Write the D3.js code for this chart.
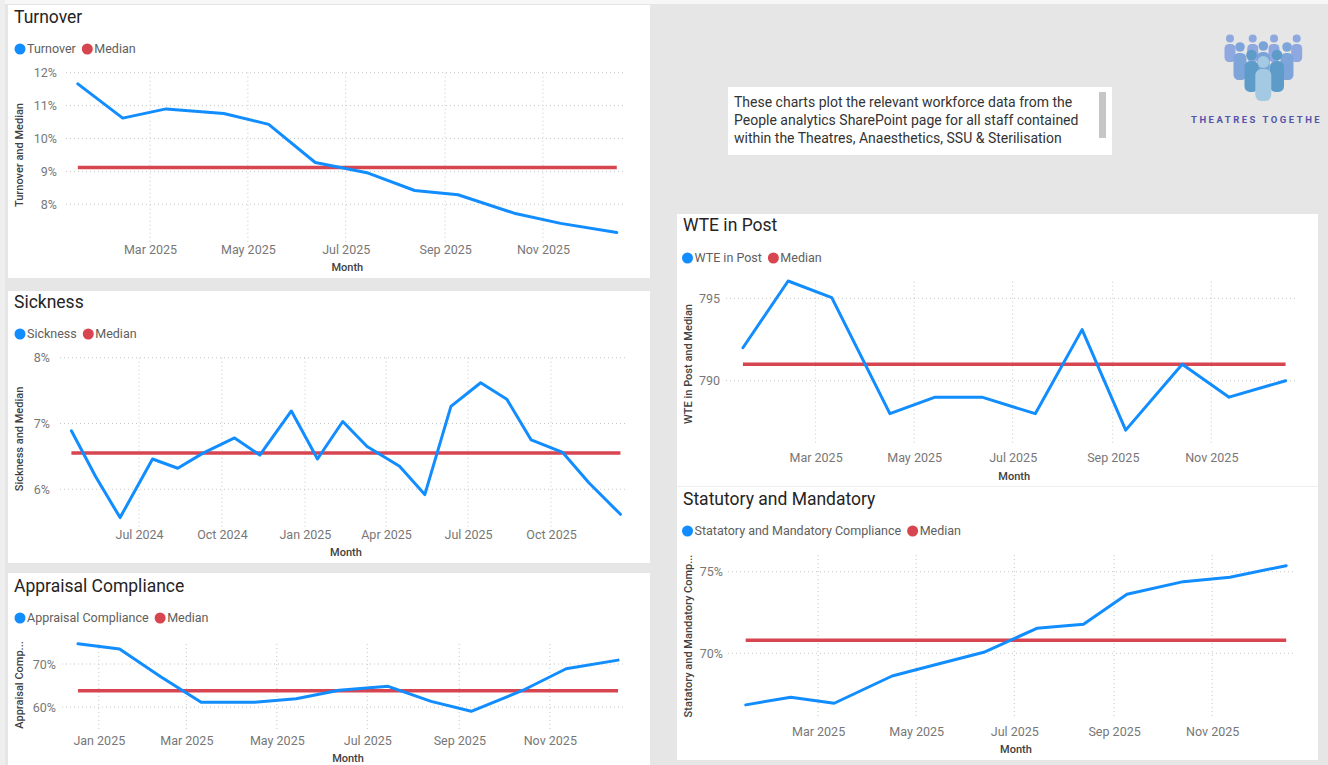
<!DOCTYPE html>
<html><head><meta charset="utf-8">
<script src="https://cdn.jsdelivr.net/npm/d3@7"></script>
<style>
body{margin:0;background:#e6e6e6;overflow:hidden;}
svg{display:block;font-family:Roboto, "Noto Sans", sans-serif;}
</style>
</head><body>
<svg id="c" width="1328" height="765"></svg>
<script>
// ---------------- DATA ----------------
const dates2025 = ["2025-01-15","2025-02-12","2025-03-11","2025-04-16","2025-05-14","2025-06-12","2025-07-15","2025-08-13","2025-09-09","2025-10-14","2025-11-12","2025-12-17"];
const dates2024 = ["2024-04-17","2024-05-14","2024-06-10","2024-07-16","2024-08-13","2024-09-10","2024-10-15","2024-11-12","2024-12-17"];

const turnoverMonths = dates2025;
const turnoverValues = [11.66,10.62,10.90,10.76,10.43,9.27,8.95,8.42,8.29,7.73,7.42,7.14];
const turnoverMedian = 9.12;
const turnoverXTicks = ["2025-03-01","2025-05-01","2025-07-01","2025-09-01","2025-11-01"];
const turnoverYTicks = [8,9,10,11,12];

const sicknessMonths = dates2024.concat(dates2025);
const sicknessValues = [6.89,6.19,5.57,6.46,6.32,6.55,6.78,6.52,7.19,6.46,7.03,6.65,6.35,5.92,7.26,7.62,7.37,6.75,6.56,6.10,5.62];
const sicknessMedian = 6.55;
const sicknessXTicks = ["2024-07-01","2024-10-01","2025-01-01","2025-04-01","2025-07-01","2025-10-01"];
const sicknessYTicks = [6,7,8];

const appraisalMonths = ["2024-12-18"].concat(dates2025);
const appraisalValues = [74.7,73.5,67.0,61.1,61.1,61.9,63.9,64.8,61.3,59.0,63.9,68.9,70.9];
const appraisalMedian = 63.8;
const appraisalXTicks = ["2025-01-01","2025-03-01","2025-05-01","2025-07-01","2025-09-01","2025-11-01"];
const appraisalYTicks = [60,70];

const wteMonths = dates2025;
const wteValues = [792.0,796.05,795.04,788.0,789.0,789.0,788.0,793.1,787.0,791.0,789.0,790.0];
const wteMedian = 791;
const wteXTicks = ["2025-03-01","2025-05-01","2025-07-01","2025-09-01","2025-11-01"];
const wteYTicks = [790,795];

const statMonths = dates2025;
const statValues = [66.84,67.31,66.94,68.61,69.33,70.06,71.53,71.78,73.62,74.39,74.66,75.37];
const statMedian = 70.8;
const statXTicks = ["2025-03-01","2025-05-01","2025-07-01","2025-09-01","2025-11-01"];
const statYTicks = [70,75];

// ---------------- DRAW ----------------
const BLUE = "#118DFF", RED = "#D64550";
const parse = d3.timeParse("%Y-%m-%d");
const fmtMonth = d3.timeFormat("%b %Y");
const svg = d3.select("#c");

svg.append("rect").attr("width",1328).attr("height",765).attr("fill","#e6e6e6");
svg.append("rect").attr("width",1328).attr("height",4).attr("fill","#f7f7f7");
svg.append("rect").attr("width",5).attr("height",765).attr("fill","#eeeeee");

function drawChart(c) {
  const g = svg.append("g");
  g.append("rect").attr("x",c.panel[0]).attr("y",c.panel[1]).attr("width",c.panel[2]).attr("height",c.panel[3]).attr("fill","#fff");
  g.append("text").attr("x",c.titleX).attr("y",c.titleY).text(c.title)
    .attr("font-size",17.5).attr("fill","#252423");
  // legend
  let lx = c.legendX;
  [[c.series,BLUE],["Median",RED]].forEach(([name,col]) => {
    g.append("circle").attr("cx",lx+5.5).attr("cy",c.legendY).attr("r",5.5).attr("fill",col);
    const t = g.append("text").attr("x",lx+12.5).attr("y",c.legendY).attr("dy","0.35em")
      .attr("font-size",12.5).attr("fill","#605e5c").text(name);
    lx += 12.5 + t.node().getComputedTextLength() + 6;
  });

  const x = d3.scaleTime().domain(c.xTicks.filter((d,i,a)=>i===0||i===a.length-1).map(parse)).range(c.xPix);
  const y = d3.scaleLinear().domain([c.yTicks[0], c.yTicks[c.yTicks.length-1]]).range(c.yPix);

  // gridlines
  g.selectAll(null).data(c.yTicks).enter().append("line")
    .attr("x1",c.plot.left).attr("x2",c.plot.right)
    .attr("y1",d=>y(d)).attr("y2",d=>y(d))
    .attr("stroke","#c8c8c8").attr("stroke-width",1).attr("stroke-dasharray","1,3");
  g.selectAll(null).data(c.xTicks.map(parse)).enter().append("line")
    .attr("x1",d=>x(d)).attr("x2",d=>x(d))
    .attr("y1",c.plot.top).attr("y2",c.plot.bottom)
    .attr("stroke","#c8c8c8").attr("stroke-width",1).attr("stroke-dasharray","1,3");

  // y axis labels
  const ya = g.append("g").attr("transform",`translate(${c.yLabelEnd},0)`)
    .call(d3.axisLeft(y).tickValues(c.yTicks).tickSize(0).tickPadding(0).tickFormat(c.yFmt));
  ya.select(".domain").remove();
  ya.selectAll("text").attr("font-size",12.5).attr("fill","#777").attr("font-family","Roboto");

  // x axis labels
  const xa = g.append("g").attr("transform",`translate(0,${c.xLabelY})`)
    .call(d3.axisBottom(x).tickValues(c.xTicks.map(parse)).tickSize(0).tickPadding(0).tickFormat(fmtMonth));
  xa.select(".domain").remove();
  xa.selectAll("text").attr("y",0).attr("dy","0.35em").attr("font-size",12.5).attr("fill","#777").attr("font-family","Roboto");

  // axis titles
  g.append("text").attr("transform",`translate(${c.yTitleX},${c.yTitleY}) rotate(-90)`)
    .attr("text-anchor","middle").attr("dy","0.35em").attr("font-size",11).attr("font-weight",500)
    .attr("fill","#404040").text(c.yTitle);
  g.append("text").attr("x",(x(parse(c.months[0]))+x(parse(c.months[c.months.length-1])))/2 + (c.monthDx||0))
    .attr("y",c.monthY).attr("dy","0.35em").attr("text-anchor","middle")
    .attr("font-size",11).attr("font-weight",500).attr("fill","#404040").text("Month");

  const data = c.months.map((m,i)=>({d:parse(m), v:c.values[i]}));
  const first = data[0].d, last = data[data.length-1].d;
  g.append("line").attr("x1",x(first)).attr("x2",x(last))
    .attr("y1",y(c.median)).attr("y2",y(c.median))
    .attr("stroke",RED).attr("stroke-width",3.5);
  g.append("path").datum(data)
    .attr("d",d3.line().x(p=>x(p.d)).y(p=>y(p.v)))
    .attr("fill","none").attr("stroke",BLUE).attr("stroke-width",3)
    .attr("stroke-linejoin","round").attr("stroke-linecap","round");
}

const pct = d => d + "%";

drawChart({title:"Turnover", series:"Turnover", panel:[8,5,642,273], titleX:14, titleY:23, legendX:14.5, legendY:49,
  plot:{left:66,right:624,top:72.7,bottom:245}, xTicks:turnoverXTicks, xPix:[150,543], yTicks:turnoverYTicks, yPix:[204.3,72.7],
  yFmt:pct, yLabelEnd:57, xLabelY:250, monthY:267, yTitle:"Turnover and Median", yTitleX:19, yTitleY:155,
  months:turnoverMonths, values:turnoverValues, median:turnoverMedian});

drawChart({title:"Sickness", series:"Sickness", panel:[8,291,642,272], titleX:14, titleY:308, legendX:14.5, legendY:334,
  plot:{left:60,right:628,top:357.7,bottom:530}, xTicks:sicknessXTicks, xPix:[139,551], yTicks:sicknessYTicks, yPix:[489.3,357.7],
  yFmt:pct, yLabelEnd:50, xLabelY:534.5, monthY:552, yTitle:"Sickness and Median", yTitleX:19, yTitleY:439,
  months:sicknessMonths, values:sicknessValues, median:sicknessMedian});

drawChart({title:"Appraisal Compliance", series:"Appraisal Compliance", panel:[8,573,642,192], titleX:14, titleY:592, legendX:14.5, legendY:618,
  plot:{left:62,right:624,top:644,bottom:729}, xTicks:appraisalXTicks, xPix:[98.8,549.8], yTicks:appraisalYTicks, yPix:[707,664],
  yFmt:pct, yLabelEnd:56, xLabelY:741, monthY:758.5, yTitle:"Appraisal Comp...", yTitleX:19, yTitleY:685,
  months:appraisalMonths, values:appraisalValues, median:appraisalMedian});

drawChart({title:"WTE in Post", series:"WTE in Post", panel:[677,214,641,272], titleX:683, titleY:231, legendX:682, legendY:258,
  plot:{left:726,right:1295,top:281.7,bottom:445}, xTicks:wteXTicks, xPix:[815.6,1211.3], yTicks:wteYTicks, yPix:[380.7,298.3],
  yFmt:d=>d, yLabelEnd:720, xLabelY:458, monthY:476, yTitle:"WTE in Post and Median", yTitleX:688, yTitleY:364,
  months:wteMonths, values:wteValues, median:wteMedian});

drawChart({title:"Statutory and Mandatory", series:"Statatory and Mandatory Compliance", panel:[677,487,641,273], titleX:683, titleY:505, legendX:682, legendY:531,
  plot:{left:728,right:1293,top:555,bottom:718}, xTicks:statXTicks, xPix:[818.1,1212.2], yTicks:statYTicks, yPix:[653.3,571.7],
  yFmt:pct, yLabelEnd:723, xLabelY:732, monthY:749, yTitle:"Statatory and Mandatory Comp...", yTitleX:688, yTitleY:636,
  months:statMonths, values:statValues, median:statMedian});

svg.append("line").attr("x1",677).attr("x2",1318).attr("y1",486.5).attr("y2",486.5).attr("stroke","#eeeeee");

// ---------------- TEXT BOX ----------------
const infoLines = ["These charts plot the relevant workforce data from the",
  "People analytics SharePoint page for all staff contained",
  "within the Theatres, Anaesthetics, SSU & Sterilisation"];
svg.append("rect").attr("x",728).attr("y",87).attr("width",384).attr("height",68).attr("fill","#fff");
svg.append("rect").attr("x",1099).attr("y",92).attr("width",7).attr("height",46).attr("fill","#c6c6c6");
svg.selectAll(null).data(infoLines).enter().append("text")
  .attr("x",734).attr("y",(d,i)=>107+i*18).attr("font-size",14).attr("fill","#333").text(d=>d);

// ---------------- LOGO ----------------
const logoText = "THEATRES TOGETHE";
const logo = svg.append("g");
function person(cx, cy, r, bw, btop, bbot, col) {
  logo.append("rect").attr("x",cx-bw/2).attr("y",btop).attr("width",bw).attr("height",bbot-btop).attr("rx",bw*0.4).attr("fill",col);
  logo.append("circle").attr("cx",cx).attr("cy",cy).attr("r",r).attr("fill",col);
}
[1230,1252.7,1274,1296.7].forEach(cx=>person(cx,38.5,4,11,44,62,"#90a8e0"));
person(1263.3,46,4.8,13,52,80,"#7aa4d8");
[1240,1287].forEach(cx=>person(cx,47,4.8,13,53,80,"#7da5da"));
[1251.5,1277].forEach(cx=>person(cx,55,5.3,14,61,92,"#5d9cc8"));
person(1263.3,62,6,16,69,101,"#a3cae2");
svg.append("text").attr("x",1191).attr("y",122.5).attr("font-size",9.5).attr("font-weight",700)
  .attr("letter-spacing",2.5).attr("fill","#5454aa").text(logoText);
</script>
</body></html>
